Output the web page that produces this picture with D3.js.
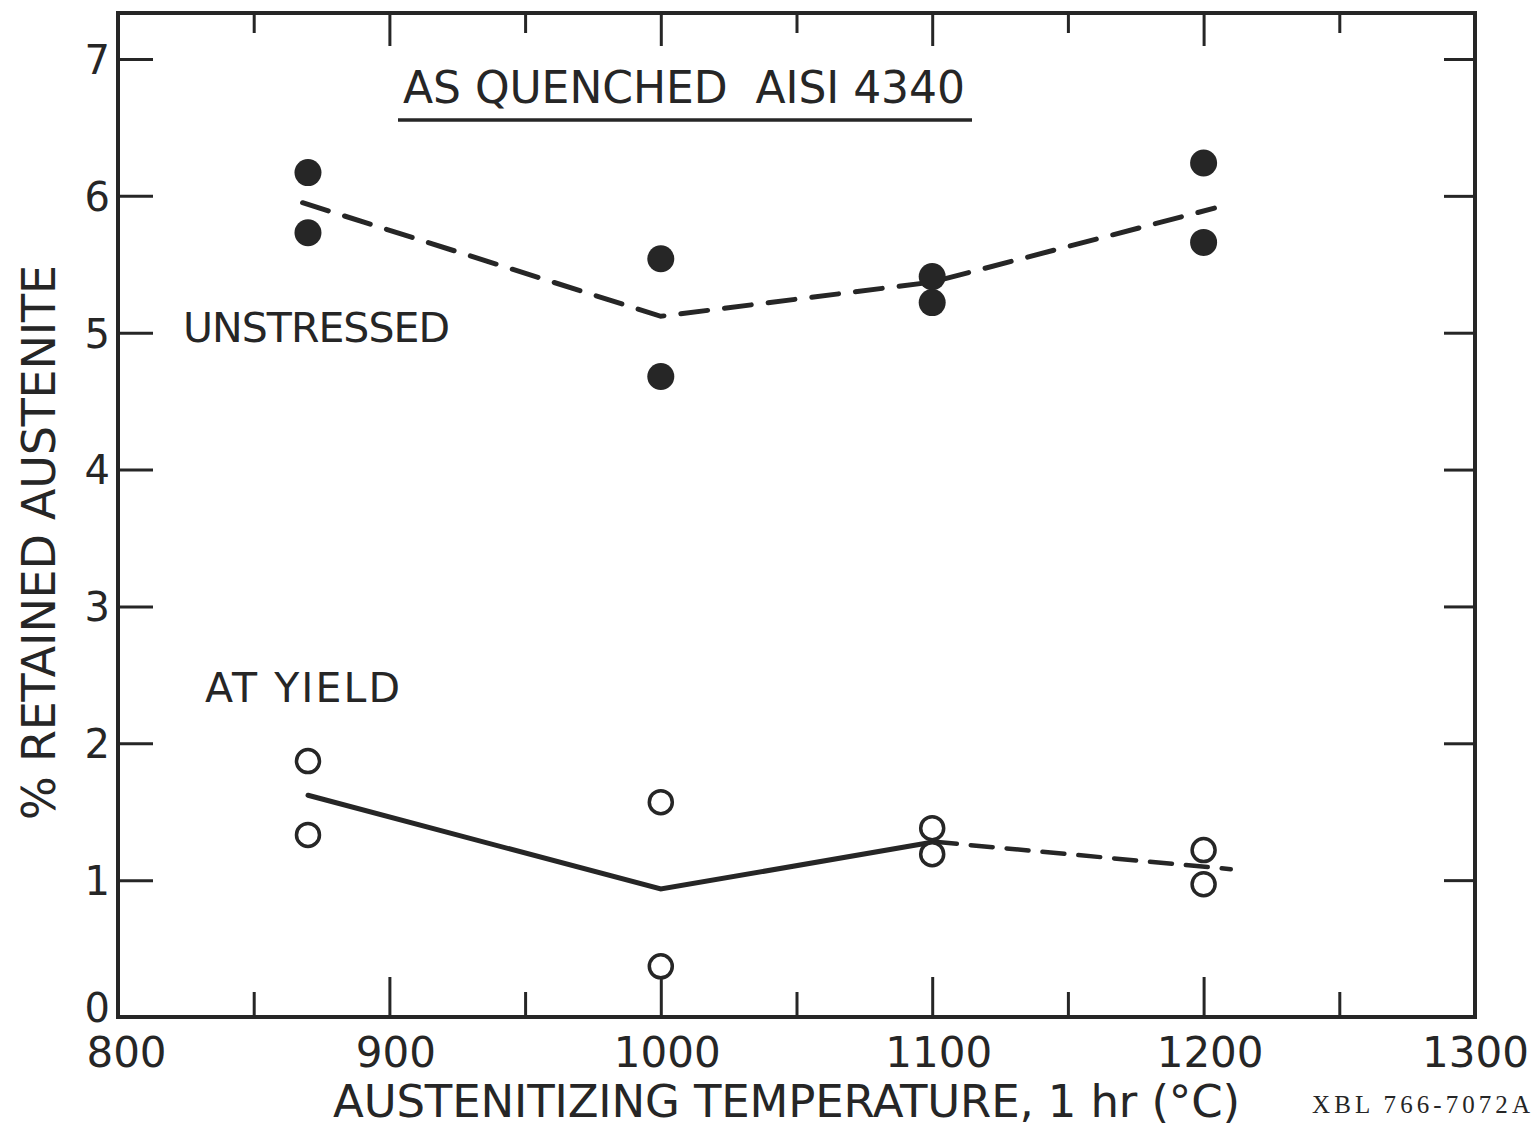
<!DOCTYPE html>
<html lang="en">
<head>
<meta charset="utf-8">
<title>As quenched AISI 4340</title>
<style>
    body { margin: 0; background: #fff; }
    svg text { font-family: "DejaVu Sans", sans-serif; fill: #262626; }
    .domain { display: none; }
</style>
</head>
<body>
<div id="chart"></div>
<script src="https://cdn.jsdelivr.net/npm/d3@7"></script>
<script>
// temperatures (°C) and readings
const temps = [870, 1000, 1100, 1200];
const unstressedHigh = [6.17, 5.54, 5.41, 6.24];
const unstressedLow = [5.73, 4.68, 5.22, 5.66];
const yieldHigh = [1.87, 1.57, 1.38, 1.22];
const yieldLow = [1.33, 0.37, 1.19, 0.97];

// hand drawn lines through the points
const unstressedLineT = [868, 1000, 1100, 1204];
const unstressedLine = [5.95, 5.12, 5.37, 5.91];
const yieldSolidT = [870, 1000, 1101];
const yieldSolid = [1.62, 0.935, 1.28];
const yieldDashT = [1101, 1210];
const yieldDash = [1.28, 1.08];

const xTicks = [800, 850, 900, 950, 1000, 1050, 1100, 1150, 1200, 1250, 1300];
const yTicks = [0, 1, 2, 3, 4, 5, 6, 7];

const W = 1535, H = 1130;
const ink = "#262626";

const svg = d3.select("#chart").append("svg")
    .attr("width", W).attr("height", H);

const x = d3.scaleLinear().domain([800, 1300]).range([118, 1475]);
const y = d3.scaleLinear().domain([0, 7]).range([1017, 59]);
const yTop = 13;

// frame
svg.append("rect")
    .attr("x", x(800)).attr("y", yTop)
    .attr("width", x(1300) - x(800)).attr("height", y(0) - yTop)
    .attr("fill", "none").attr("stroke", ink).attr("stroke-width", 4);

const isMajor = d => d % 100 === 0;

// bottom axis
const gB = svg.append("g")
    .attr("transform", `translate(0,${y(0)})`)
    .call(d3.axisBottom(x).tickValues(xTicks).tickSize(-40).tickPadding(0)
        .tickFormat(d => isMajor(d) ? d : ""));
gB.selectAll(".tick line")
    .attr("y2", d => (d === 800 || d === 1300) ? 0 : (isMajor(d) ? -40 : -25))
    .attr("stroke", ink).attr("stroke-width", 3);
gB.selectAll(".tick text")
    .attr("x", d => d === 800 ? 8 : (d === 1300 ? 0 : 6))
    .attr("y", 50).attr("dy", 0)
    .attr("font-size", 42).attr("fill", ink);

// top axis
const gT = svg.append("g")
    .attr("transform", `translate(0,${yTop})`)
    .call(d3.axisTop(x).tickValues(xTicks).tickSize(-33).tickFormat(""));
gT.selectAll(".tick line")
    .attr("y2", d => (d === 800 || d === 1300) ? 0 : (isMajor(d) ? 33 : 20))
    .attr("stroke", ink).attr("stroke-width", 3);

// left axis
const gL = svg.append("g")
    .attr("transform", `translate(${x(800)},0)`)
    .call(d3.axisLeft(y).tickValues(yTicks).tickSize(-35).tickPadding(0)
        .tickFormat(d3.format("d")));
gL.selectAll(".tick line")
    .attr("x2", d => d === 0 ? 0 : 35)
    .attr("stroke", ink).attr("stroke-width", 3);
gL.selectAll(".tick text")
    .attr("x", -8).attr("dy", d => d === 0 ? "0.1em" : "0.36em")
    .attr("font-size", 40).attr("fill", ink);

// right axis
const gR = svg.append("g")
    .attr("transform", `translate(${x(1300)},0)`)
    .call(d3.axisRight(y).tickValues(yTicks).tickSize(-31).tickFormat(""));
gR.selectAll(".tick line")
    .attr("x2", d => d === 0 ? 0 : -31)
    .attr("stroke", ink).attr("stroke-width", 3);

// lines
const line = d3.line().x(d => x(d[0])).y(d => y(d[1]));

svg.append("path")
    .datum(unstressedLineT.map((t, i) => [t, unstressedLine[i]]))
    .attr("d", line).attr("fill", "none")
    .attr("stroke", ink).attr("stroke-width", 5)
    .attr("stroke-linecap", "round").attr("stroke-dasharray", "27 17");

svg.append("path")
    .datum(yieldSolidT.map((t, i) => [t, yieldSolid[i]]))
    .attr("d", line).attr("fill", "none")
    .attr("stroke", ink).attr("stroke-width", 5)
    .attr("stroke-linecap", "round");

svg.append("path")
    .datum(yieldDashT.map((t, i) => [t, yieldDash[i]]))
    .attr("d", line).attr("fill", "none")
    .attr("stroke", ink).attr("stroke-width", 4.5)
    .attr("stroke-linecap", "round").attr("stroke-dasharray", "22 14");

// points
const filled = temps.flatMap((t, i) => [[t, unstressedHigh[i]], [t, unstressedLow[i]]]);
const open = temps.flatMap((t, i) => [[t, yieldHigh[i]], [t, yieldLow[i]]]);

svg.append("g").selectAll("circle").data(filled).join("circle")
    .attr("cx", d => x(d[0])).attr("cy", d => y(d[1]))
    .attr("r", 13.5).attr("fill", ink);

svg.append("g").selectAll("circle").data(open).join("circle")
    .attr("cx", d => x(d[0])).attr("cy", d => y(d[1]))
    .attr("r", 11.5).attr("fill", "#fff")
    .attr("stroke", ink).attr("stroke-width", 3.5);

// texts
svg.append("text")
    .attr("x", 403).attr("y", 103)
    .attr("font-size", 44)
    .attr("textLength", 562).attr("lengthAdjust", "spacing")
    .style("white-space", "pre")
    .text("AS QUENCHED  AISI 4340");
svg.append("line")
    .attr("x1", 398).attr("x2", 972).attr("y1", 120).attr("y2", 120)
    .attr("stroke", ink).attr("stroke-width", 3.5);

svg.append("text")
    .attr("x", 183).attr("y", 342)
    .attr("font-size", 41)
    .attr("textLength", 267).attr("lengthAdjust", "spacing")
    .text("UNSTRESSED");

svg.append("text")
    .attr("x", 205).attr("y", 702)
    .attr("font-size", 41)
    .attr("textLength", 195).attr("lengthAdjust", "spacing")
    .text("AT YIELD");

svg.append("text")
    .attr("x", 333).attr("y", 1117)
    .attr("font-size", 45)
    .attr("textLength", 907).attr("lengthAdjust", "spacing")
    .text("AUSTENITIZING TEMPERATURE, 1 hr (°C)");

svg.append("text")
    .attr("transform", "translate(55,820) rotate(-90)")
    .attr("font-size", 46)
    .attr("textLength", 555).attr("lengthAdjust", "spacing")
    .text("% RETAINED AUSTENITE");

svg.append("text")
    .attr("x", 1312).attr("y", 1113)
    .attr("font-size", 25)
    .attr("textLength", 218).attr("lengthAdjust", "spacing")
    .style("font-family", "'Liberation Serif', serif")
    .text("XBL 766-7072A");
</script>
</body>
</html>
